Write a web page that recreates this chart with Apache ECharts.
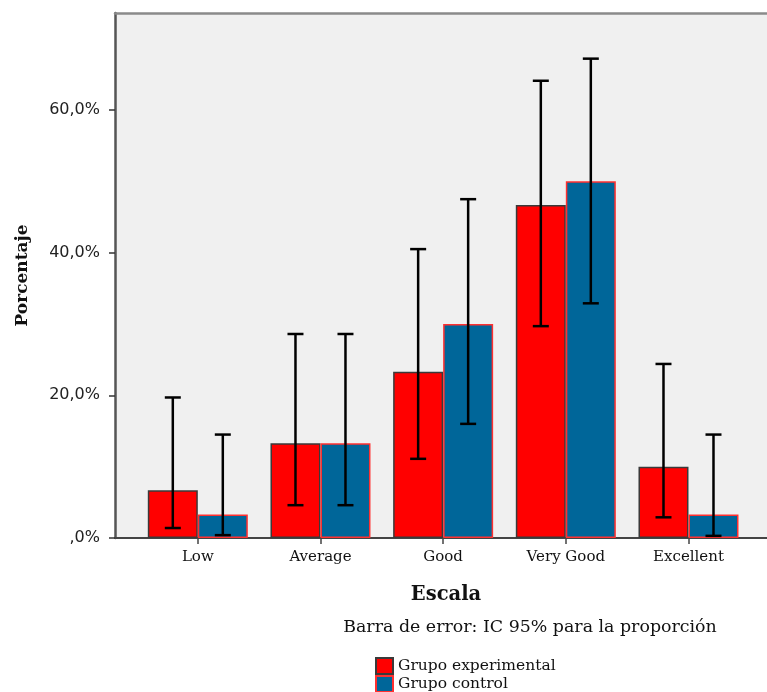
<!DOCTYPE html>
<html>
<head>
<meta charset="utf-8">
<script src="https://cdn.jsdelivr.net/npm/echarts@6/dist/echarts.min.js"></script>
<style>html,body{margin:0;padding:0;background:#fff;}#c{width:767px;height:692px;}</style>
</head>
<body>
<div id="c"></div>
<script>
const categories = ['Low', 'Average', 'Good', 'Very Good', 'Excellent'];
const seriesNames = ['Grupo experimental', 'Grupo control'];
const expValues = [6.7, 13.3, 23.3, 46.7, 10.0];
const ctrlValues = [3.3, 13.3, 30.0, 50.0, 3.3];
const expLow = [1.4, 4.6, 11.1, 29.7, 2.9];
const expHigh = [19.7, 28.6, 40.5, 64.1, 24.4];
const ctrlLow = [0.4, 4.6, 16.0, 32.9, 0.3];
const ctrlHigh = [14.5, 28.6, 47.5, 67.2, 14.5];
const yTicks = [0, 20, 40, 60];

const serif = 'DejaVu Serif';
const chart = echarts.init(document.getElementById('c'));

function fmtPct(v) {
  if (v === 0) return ',0%';
  return v.toFixed(1).replace('.', ',') + '%';
}

function errorSeries(lows, highs, offset) {
  return {
    type: 'custom',
    z: 10,
    silent: true,
    data: lows.map((l, i) => [i, l, highs[i]]),
    renderItem: function (params, api) {
      const lo = api.coord([api.value(0), api.value(1)]);
      const hi = api.coord([api.value(0), api.value(2)]);
      const x = lo[0] + offset;
      const half = 8;
      const style = { stroke: '#000', lineWidth: 2.5 };
      return {
        type: 'group',
        children: [
          { type: 'line', shape: { x1: x, y1: lo[1], x2: x, y2: hi[1] }, style: style },
          { type: 'line', shape: { x1: x - half, y1: lo[1], x2: x + half, y2: lo[1] }, style: style },
          { type: 'line', shape: { x1: x - half, y1: hi[1], x2: x + half, y2: hi[1] }, style: style }
        ]
      };
    }
  };
}

function legendFor(name, top) {
  return {
    left: 375,
    top: top,
    padding: 0,
    itemWidth: 17,
    itemHeight: 16,
    icon: 'rect',
    textStyle: { fontFamily: serif, fontSize: 15.5, color: '#111' },
    data: [name]
  };
}

const option = {
  animation: false,
  backgroundColor: '#ffffff',
  title: [
    { text: 'Escala', left: 441, top: 580, textAlign: 'center',
      textStyle: { fontFamily: serif, fontWeight: 'bold', fontSize: 19.5, color: '#111' } },
    { text: 'Barra de error: IC 95% para la proporción', left: 525, top: 614, textAlign: 'center',
      textStyle: { fontFamily: serif, fontWeight: 'normal', fontSize: 17.4, color: '#111' } }
  ],
  legend: [legendFor(seriesNames[0], 657), legendFor(seriesNames[1], 675)],
  grid: {
    left: 115, right: -2, top: 13, bottom: 154,
    show: true, backgroundColor: '#f0f0f0', borderWidth: 0,
    containLabel: false
  },
  xAxis: [{
    type: 'value',
    min: -0.675,
    max: 4.64,
    splitLine: { show: false },
    axisLine: { show: true, onZero: false, lineStyle: { color: '#444', width: 2 } },
    axisTick: { show: true, customValues: [0, 1, 2, 3, 4], length: 6, lineStyle: { color: '#444', width: 1.5 } },
    axisLabel: {
      customValues: [0, 1, 2, 3, 4],
      formatter: v => categories[Math.round(v)],
      fontFamily: serif, fontSize: 15, color: '#111', margin: 12
    }
  }, {
    type: 'value',
    position: 'top',
    min: -0.675,
    max: 4.64,
    splitLine: { show: false },
    axisLine: { show: true, onZero: false, lineStyle: { color: '#8a8a8a', width: 2.5 } },
    axisTick: { show: false },
    axisLabel: { show: false }
  }],
  yAxis: {
    type: 'value',
    min: 0,
    max: 73.6,
    splitLine: { show: false },
    axisLine: { show: true, onZero: false, lineStyle: { color: '#555', width: 2.5 } },
    axisTick: { show: true, customValues: yTicks, length: 6, lineStyle: { color: '#333', width: 1.5 } },
    axisLabel: {
      customValues: yTicks,
      formatter: v => fmtPct(v),
      fontFamily: 'DejaVu Sans', fontSize: 16, color: '#222', margin: 15
    },
    name: 'Porcentaje',
    nameLocation: 'middle',
    nameGap: 84,
    nameTextStyle: { fontFamily: serif, fontWeight: 'bold', fontSize: 17, color: '#111' }
  },
  series: [
    {
      name: seriesNames[0],
      type: 'bar',
      barWidth: 50,
      barGap: '0%',
      data: expValues.map((v, i) => [i, v]),
      itemStyle: { color: '#ff0000', borderColor: '#3a3a3a', borderWidth: 1.5 }
    },
    {
      name: seriesNames[1],
      type: 'bar',
      barWidth: 50,
      barGap: '0%',
      data: ctrlValues.map((v, i) => [i, v]),
      itemStyle: { color: '#006699', borderColor: '#ff3030', borderWidth: 1.5 }
    },
    errorSeries(expLow, expHigh, -25),
    errorSeries(ctrlLow, ctrlHigh, 25)
  ]
};
chart.setOption(option);
</script>
</body>
</html>
